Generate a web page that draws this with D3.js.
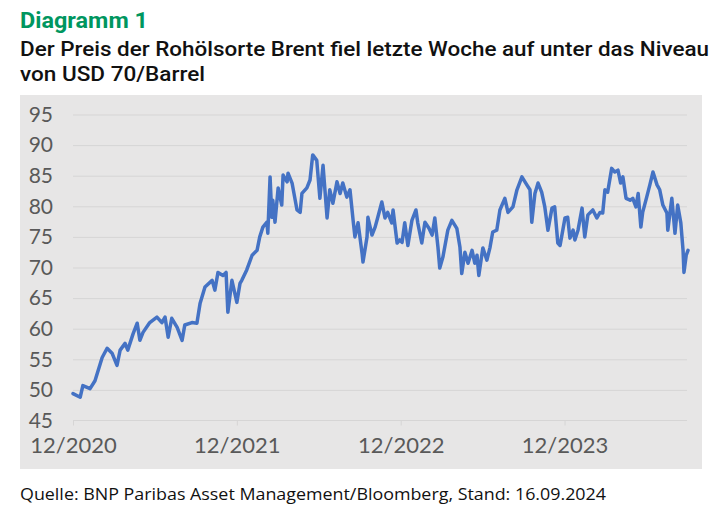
<!DOCTYPE html>
<html><head><meta charset="utf-8">
<script src="https://cdn.jsdelivr.net/npm/d3@7/dist/d3.min.js"></script>
<style>
html,body{margin:0;padding:0;background:#fff;}
svg{display:block;}
</style></head>
<body>
<svg id="chart" width="725" height="512"></svg>
<script>
const title = "Diagramm 1";
const subtitle1 = "Der Preis der Rohölsorte Brent fiel letzte Woche auf unter das Niveau";
const subtitle2 = "von USD 70/Barrel";
const source = "Quelle: BNP Paribas Asset Management/Bloomberg, Stand: 16.09.2024";

const yTicks = [45, 50, 55, 60, 65, 70, 75, 80, 85, 90, 95];
const xTickDates = ["2020-12-16", "2021-12-16", "2022-12-16", "2023-12-16"];
const xTickLabels = ["12/2020", "12/2021", "12/2022", "12/2023"];
const dateStart = "2020-12-16";
const dateEnd = "2024-09-16";

const dates = [
"2020-12-16","2021-01-01","2021-01-07","2021-01-23","2021-02-03","2021-02-19","2021-03-02","2021-03-13","2021-03-24","2021-03-31",
"2021-04-11","2021-04-17","2021-04-29","2021-05-08","2021-05-14","2021-05-21","2021-06-05","2021-06-21","2021-07-02","2021-07-09",
"2021-07-16","2021-07-24","2021-08-05","2021-08-16","2021-08-22","2021-09-07","2021-09-18","2021-09-25","2021-10-06","2021-10-22",
"2021-10-28","2021-11-04","2021-11-15","2021-11-22","2021-11-26","2021-12-05","2021-12-16","2021-12-23","2021-12-27","2022-01-07",
"2022-01-19","2022-01-30","2022-02-05","2022-02-12","2022-02-21","2022-02-23","2022-02-28","2022-03-04","2022-03-06","2022-03-11",
"2022-03-18","2022-03-26","2022-03-29","2022-04-07","2022-04-09","2022-04-18","2022-04-29","2022-05-06","2022-05-10","2022-05-21",
"2022-05-28","2022-06-03","2022-06-12","2022-06-19","2022-06-26","2022-07-05","2022-07-11","2022-07-18","2022-07-27","2022-08-03",
"2022-08-09","2022-08-18","2022-08-25","2022-09-01","2022-09-05","2022-09-12","2022-09-21","2022-09-23","2022-10-02","2022-10-04",
"2022-10-13","2022-10-20","2022-10-26","2022-11-04","2022-11-11","2022-11-17","2022-11-26","2022-11-29","2022-12-08","2022-12-14",
"2022-12-19","2022-12-25","2023-01-01","2023-01-10","2023-01-19","2023-01-23","2023-02-01","2023-02-08","2023-02-17","2023-02-24",
"2023-03-02","2023-03-09","2023-03-13","2023-03-20","2023-03-31","2023-04-09","2023-04-20","2023-04-27","2023-05-01","2023-05-08",
"2023-05-15","2023-05-24","2023-05-30","2023-06-04","2023-06-08","2023-06-17","2023-06-26","2023-07-03","2023-07-09","2023-07-18",
"2023-07-25","2023-08-05","2023-08-12","2023-08-23","2023-09-01","2023-09-12","2023-09-23","2023-09-30","2023-10-04","2023-10-11",
"2023-10-18","2023-10-26","2023-11-02","2023-11-09","2023-11-18","2023-11-24","2023-12-01","2023-12-06","2023-12-17","2023-12-23",
"2023-12-28","2024-01-04","2024-01-08","2024-01-15","2024-01-24","2024-01-30","2024-02-06","2024-02-17","2024-02-26","2024-03-04",
"2024-03-10","2024-03-15","2024-03-21","2024-03-30","2024-04-06","2024-04-13","2024-04-19","2024-04-24","2024-05-01","2024-05-10",
"2024-05-16","2024-05-23","2024-05-28","2024-06-03","2024-06-07","2024-06-16","2024-06-23","2024-06-30","2024-07-09","2024-07-15",
"2024-07-22","2024-07-31","2024-08-02","2024-08-11","2024-08-18","2024-08-24","2024-08-31","2024-09-05","2024-09-07","2024-09-12",
"2024-09-16"
];
const prices = [
49.4,48.8,50.7,50.2,51.5,55.3,56.8,56.0,54.0,56.5,
57.6,56.5,59.2,60.9,58.1,59.4,61.0,61.9,61.0,61.9,
58.6,61.7,60.2,58.1,60.6,61.0,60.9,64.1,66.8,67.9,
66.3,69.2,68.7,69.2,62.7,67.9,64.3,67.4,67.9,69.6,
72.0,72.8,75.0,76.6,77.4,75.6,84.8,78.2,81.0,77.4,
83.0,80.2,85.1,84.0,85.4,83.8,79.4,79.0,82.1,83.0,
84.3,88.4,87.5,81.3,86.7,78.1,82.7,80.5,84.0,82.1,
83.8,81.5,82.7,77.7,75.0,77.3,72.3,70.9,75.0,78.2,
75.3,76.6,78.2,80.7,78.1,79.0,77.3,79.4,74.0,74.5,
74.1,77.3,73.6,77.7,79.4,77.3,74.0,77.4,76.4,75.3,
78.1,73.3,69.9,71.7,76.1,77.7,76.4,73.3,69.0,72.5,
70.7,72.8,70.7,72.0,68.7,73.2,71.2,73.3,75.8,76.1,
79.4,81.3,79.0,79.9,82.7,84.8,83.5,82.7,77.4,82.1,
83.8,82.3,79.9,76.1,79.7,79.9,74.0,73.6,78.1,78.2,
74.8,76.1,74.5,76.1,79.7,75.0,78.6,79.4,78.1,79.0,
78.9,82.7,82.3,86.2,85.6,85.9,83.8,84.8,81.3,81.0,
81.3,79.9,82.1,76.6,79.0,81.5,83.5,85.6,83.5,82.7,
80.2,78.9,76.1,81.3,75.6,80.2,77.3,72.8,69.2,72.0,
72.8
];

const parse = d3.timeParse("%Y-%m-%d");
const data = dates.map((d, i) => ({date: parse(d), value: prices[i]}));

const svg = d3.select("#chart");

// Titles
svg.append("text").attr("x", 20).attr("y", 28)
  .attr("font-family", "Roboto, 'Noto Sans', sans-serif")
  .attr("font-weight", "bold").attr("font-size", 22).attr("fill", "#00965f")
  .attr("textLength", 128).attr("lengthAdjust", "spacingAndGlyphs")
  .text(title);
svg.append("text").attr("x", 20).attr("y", 56)
  .attr("font-family", "Roboto, 'Noto Sans', sans-serif")
  .attr("font-weight", 500)
  .attr("font-size", 21).attr("fill", "#111")
  .attr("textLength", 689).attr("lengthAdjust", "spacingAndGlyphs")
  .text(subtitle1);
svg.append("text").attr("x", 20).attr("y", 81)
  .attr("font-family", "Roboto, 'Noto Sans', sans-serif")
  .attr("font-weight", 500)
  .attr("font-size", 21).attr("fill", "#111")
  .attr("textLength", 185).attr("lengthAdjust", "spacingAndGlyphs")
  .text(subtitle2);

// Plot background
svg.append("rect").attr("x", 20).attr("y", 95).attr("width", 682).attr("height", 374)
  .attr("fill", "#e7e6e6");

const x = d3.scaleTime().domain([parse(dateStart), parse(dateEnd)]).range([73, 688]);
const y = d3.scaleLinear().domain([45, 95]).range([420.5, 114.5]);

// Y axis with gridlines
const yAxis = svg.append("g").attr("transform", "translate(73,0)")
  .call(d3.axisLeft(y).tickValues(yTicks.slice(1)).tickSize(-614).tickPadding(20));
yAxis.select(".domain").remove();
yAxis.selectAll(".tick line").attr("stroke", "#d6d5d5").attr("stroke-width", 1);
yAxis.selectAll(".tick text").remove();

// Y labels (including 45)
svg.append("g").selectAll("text").data(yTicks).join("text")
  .attr("x", 53).attr("y", d => y(d)).attr("dy", "0.35em")
  .attr("text-anchor", "end")
  .attr("font-family", "Lato, 'Open Sans', sans-serif")
  .attr("font-size", 21).attr("fill", "#595959")
  .text(d => d);

// X axis
const xAxis = svg.append("g").attr("transform", `translate(0,${y(45)})`)
  .call(d3.axisBottom(x).tickValues(xTickDates.map(parse)).tickSize(5).tickSizeOuter(0)
    .tickFormat((d, i) => xTickLabels[i]).tickPadding(12));
xAxis.select(".domain").attr("stroke", "#d6d5d5").attr("d", `M73,0H687`);
xAxis.selectAll(".tick line").attr("stroke", "#d6d5d5");
xAxis.selectAll(".tick text")
  .attr("font-family", "Lato, 'Open Sans', sans-serif")
  .attr("font-size", 22).attr("fill", "#595959");

// Line
const line = d3.line().x(d => x(d.date)).y(d => y(d.value)).curve(d3.curveLinear);
svg.append("path").datum(data)
  .attr("fill", "none").attr("stroke", "#4472c4").attr("stroke-width", 3.5)
  .attr("stroke-linejoin", "round").attr("stroke-linecap", "round")
  .attr("d", line);

// Source
svg.append("text").attr("x", 20).attr("y", 500)
  .attr("font-family", "'Open Sans', Lato, sans-serif")
  .attr("font-size", 16).attr("fill", "#111")
  .attr("textLength", 586).attr("lengthAdjust", "spacingAndGlyphs")
  .text(source);
</script>
</body></html>
